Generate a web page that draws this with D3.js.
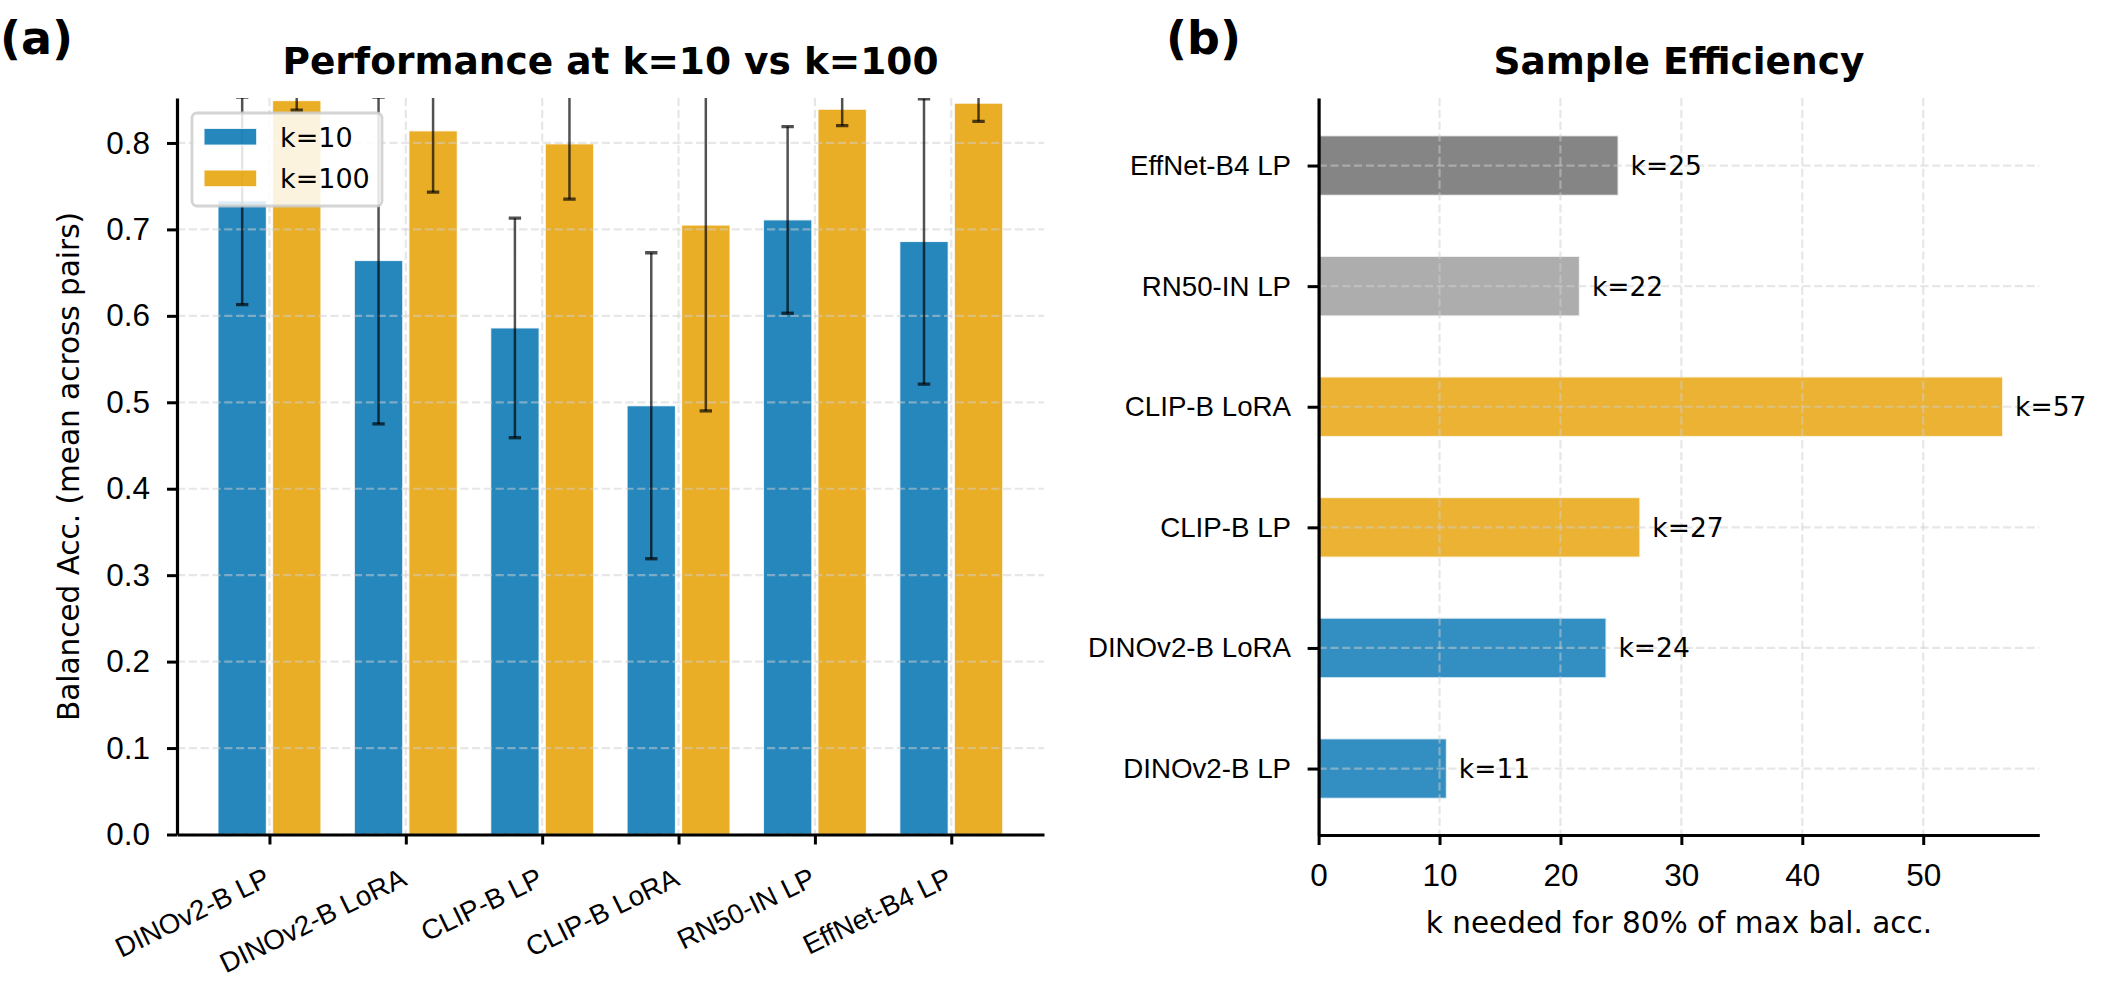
<!DOCTYPE html>
<html>
<head>
<meta charset="utf-8">
<script src="https://cdn.jsdelivr.net/npm/d3@7"></script>
<style>
  body { margin: 0; background: #fff; }
  svg { display: block; font-family: "DejaVu Sans", sans-serif; }
</style>
</head>
<body>
<svg id="fig"></svg>
<script>
// ---- data ----
const models = ["DINOv2-B LP", "DINOv2-B LoRA", "CLIP-B LP", "CLIP-B LoRA", "RN50-IN LP", "EffNet-B4 LP"];
const acc10 = [0.733, 0.664, 0.586, 0.496, 0.711, 0.686];
const err10 = [0.120, 0.189, 0.127, 0.177, 0.108, 0.165];
const acc100 = [0.849, 0.814, 0.799, 0.705, 0.839, 0.846];
const err100 = [0.011, 0.071, 0.064, 0.215, 0.019, 0.021];
const seriesNames = ["k=10", "k=100"];
const seriesColors = ["#0072B2", "#E69F00"];
const accTicks = [0, 0.1, 0.2, 0.3, 0.4, 0.5, 0.6, 0.7, 0.8];

const kNeeded = [10.6, 23.8, 26.6, 56.6, 21.6, 24.8];
const modelColors = ["#0072B2", "#0072B2", "#E69F00", "#E69F00", "#999999", "#666666"];
const kTicks = [0, 10, 20, 30, 40, 50];

const W = 2103, H = 990;
const gridDash = "8.2,3.6";
const catFont = 27.7, numFont = 31.5, labFont = 29.5, titleFont = 37.5;

const svg = d3.select("#fig").attr("width", W).attr("height", H);

function styleAxis(g, fontSize) {
  g.select(".domain").attr("stroke", "#000").attr("stroke-width", 3.2);
  g.selectAll(".tick line").attr("stroke", "#000").attr("stroke-width", 3);
  g.selectAll(".tick text").attr("fill", "#000").style("font-size", fontSize + "px");
}

// ================= panel (a) =================
const L = { left: 177, right: 1044, top: 98, bottom: 834.5 };
const x = d3.scaleLinear().domain([-0.678, 5.68]).range([L.left, L.right]);
const y = d3.scaleLinear().domain([0, 0.852]).range([L.bottom, L.top]);
const offset = 0.2, bw = 0.355;

svg.append("defs").append("clipPath").attr("id", "clipA")
  .append("rect")
  .attr("x", L.left).attr("y", L.top)
  .attr("width", L.right - L.left).attr("height", L.bottom - L.top);

const series = [
  { name: seriesNames[0], color: seriesColors[0], vals: acc10, errs: err10, dx: -offset },
  { name: seriesNames[1], color: seriesColors[1], vals: acc100, errs: err100, dx: offset }
];

const plotA = svg.append("g").attr("clip-path", "url(#clipA)");

series.forEach(s => {
  plotA.append("g").selectAll("rect")
    .data(models.map((m, i) => ({ i, v: s.vals[i] })))
    .join("rect")
    .attr("x", d => x(d.i + s.dx - bw / 2))
    .attr("width", x(bw) - x(0))
    .attr("y", d => y(d.v))
    .attr("height", d => y(0) - y(d.v))
    .attr("fill", s.color)
    .attr("fill-opacity", 0.85)
    .attr("stroke", "#fff")
    .attr("stroke-opacity", 0.8)
    .attr("stroke-width", 1.2);
});

// grid above the bars
plotA.append("g").selectAll("line")
  .data(accTicks)
  .join("line")
  .attr("x1", L.left).attr("x2", L.right)
  .attr("y1", d => y(d)).attr("y2", d => y(d))
  .attr("stroke", "#d0d0d0").attr("stroke-opacity", 0.5)
  .attr("stroke-width", 2.2).attr("stroke-dasharray", gridDash);
plotA.append("g").selectAll("line")
  .data(d3.range(models.length))
  .join("line")
  .attr("x1", d => x(d)).attr("x2", d => x(d))
  .attr("y1", L.top).attr("y2", L.bottom)
  .attr("stroke", "#d0d0d0").attr("stroke-opacity", 0.5)
  .attr("stroke-width", 2.2).attr("stroke-dasharray", gridDash);

// error bars
series.forEach(s => {
  const eg = plotA.append("g").attr("stroke", "#000").attr("stroke-opacity", 0.68);
  models.forEach((m, i) => {
    const cx = x(i + s.dx);
    const lo = y(s.vals[i] - s.errs[i]);
    const hi = y(s.vals[i] + s.errs[i]);
    eg.append("line").attr("x1", cx).attr("x2", cx).attr("y1", lo).attr("y2", hi)
      .attr("stroke-width", 2.5);
    [lo, hi].forEach(cy => {
      eg.append("line").attr("x1", cx - 6.2).attr("x2", cx + 6.2).attr("y1", cy).attr("y2", cy)
        .attr("stroke-width", 3.3);
    });
  });
});

// axes
const yAxisA = svg.append("g")
  .attr("transform", `translate(${L.left},0)`)
  .call(d3.axisLeft(y).tickValues(accTicks).tickFormat(d3.format(".1f"))
    .tickSize(10).tickSizeOuter(0).tickPadding(17));
styleAxis(yAxisA, numFont);

const xAxisA = svg.append("g")
  .attr("transform", `translate(0,${L.bottom})`)
  .call(d3.axisBottom(x).tickValues(d3.range(models.length)).tickFormat(i => models[i])
    .tickSize(10).tickSizeOuter(0));
styleAxis(xAxisA, catFont);
xAxisA.selectAll(".tick text")
  .attr("x", 0).attr("y", 0).attr("dy", 0)
  .attr("text-anchor", "end")
  .attr("transform", "translate(2,50) rotate(-26)");

svg.append("text")
  .attr("transform", "translate(79,466.5) rotate(-90)")
  .attr("text-anchor", "middle")
  .style("font-size", labFont + "px")
  .text("Balanced Acc. (mean across pairs)");

svg.append("text")
  .attr("x", (L.left + L.right) / 2).attr("y", 74)
  .attr("text-anchor", "middle")
  .style("font-size", titleFont + "px").style("font-weight", "bold")
  .text("Performance at k=10 vs k=100");

svg.append("text")
  .attr("x", 0).attr("y", 54)
  .style("font-size", "46px").style("font-weight", "bold")
  .text("(a)");

// legend
const leg = svg.append("g");
leg.append("rect")
  .attr("x", 192).attr("y", 113).attr("width", 190).attr("height", 93).attr("rx", 5)
  .attr("fill", "#fff").attr("fill-opacity", 0.85)
  .attr("stroke", "#cccccc").attr("stroke-opacity", 0.85).attr("stroke-width", 2.8);
series.forEach((s, j) => {
  const cy = 136.7 + j * 41.6;
  leg.append("rect")
    .attr("x", 204).attr("y", cy - 8.3).attr("width", 52.7).attr("height", 16.7)
    .attr("fill", s.color).attr("fill-opacity", 0.85)
    .attr("stroke", "#fff").attr("stroke-opacity", 0.8).attr("stroke-width", 1.2);
  leg.append("text")
    .attr("x", 280).attr("y", cy + 10)
    .style("font-size", "27px")
    .text(s.name);
});

// ================= panel (b) =================
const R = { left: 1318.6, right: 2039.3, top: 98, bottom: 835 };
const xk = d3.scaleLinear().domain([0, 59.6]).range([R.left, R.right]);
const yk = d3.scaleLinear().domain([-0.551, 5.56]).range([R.bottom, R.top]);
const bh = 0.5;

const plotB = svg.append("g");
plotB.append("g").selectAll("rect")
  .data(models.map((m, i) => ({ i, v: kNeeded[i] })))
  .join("rect")
  .attr("x", xk(0))
  .attr("width", d => xk(d.v) - xk(0))
  .attr("y", d => yk(d.i + bh / 2))
  .attr("height", d => yk(d.i - bh / 2) - yk(d.i + bh / 2))
  .attr("fill", d => modelColors[d.i])
  .attr("fill-opacity", 0.8)
  .attr("stroke", "#fff").attr("stroke-opacity", 0.8).attr("stroke-width", 2);

plotB.append("g").selectAll("line")
  .data(kTicks)
  .join("line")
  .attr("x1", d => xk(d)).attr("x2", d => xk(d))
  .attr("y1", R.top).attr("y2", R.bottom)
  .attr("stroke", "#d0d0d0").attr("stroke-opacity", 0.5)
  .attr("stroke-width", 2.2).attr("stroke-dasharray", gridDash);
plotB.append("g").selectAll("line")
  .data(d3.range(models.length))
  .join("line")
  .attr("x1", R.left).attr("x2", R.right)
  .attr("y1", d => yk(d)).attr("y2", d => yk(d))
  .attr("stroke", "#d0d0d0").attr("stroke-opacity", 0.5)
  .attr("stroke-width", 2.2).attr("stroke-dasharray", gridDash);

plotB.append("g").selectAll("text")
  .data(models.map((m, i) => ({ i, v: kNeeded[i] })))
  .join("text")
  .attr("x", d => xk(d.v + 1))
  .attr("y", d => yk(d.i))
  .attr("dy", "0.36em")
  .style("font-size", "26.5px")
  .text(d => `k=${Math.round(d.v)}`);

const yAxisB = svg.append("g")
  .attr("transform", `translate(${R.left},0)`)
  .call(d3.axisLeft(yk).tickValues(d3.range(models.length)).tickFormat(i => models[i])
    .tickSize(11).tickSizeOuter(0).tickPadding(16.6));
styleAxis(yAxisB, catFont);

const xAxisB = svg.append("g")
  .attr("transform", `translate(0,${R.bottom})`)
  .call(d3.axisBottom(xk).tickValues(kTicks).tickFormat(d3.format("d"))
    .tickSize(10).tickSizeOuter(0).tickPadding(19));
styleAxis(xAxisB, numFont);

svg.append("text")
  .attr("x", (R.left + R.right) / 2).attr("y", 932.7)
  .attr("text-anchor", "middle")
  .style("font-size", labFont + "px")
  .text("k needed for 80% of max bal. acc.");

svg.append("text")
  .attr("x", (R.left + R.right) / 2).attr("y", 74)
  .attr("text-anchor", "middle")
  .style("font-size", titleFont + "px").style("font-weight", "bold")
  .text("Sample Efficiency");

svg.append("text")
  .attr("x", 1166).attr("y", 54)
  .style("font-size", "46px").style("font-weight", "bold")
  .text("(b)");
</script>
</body>
</html>
